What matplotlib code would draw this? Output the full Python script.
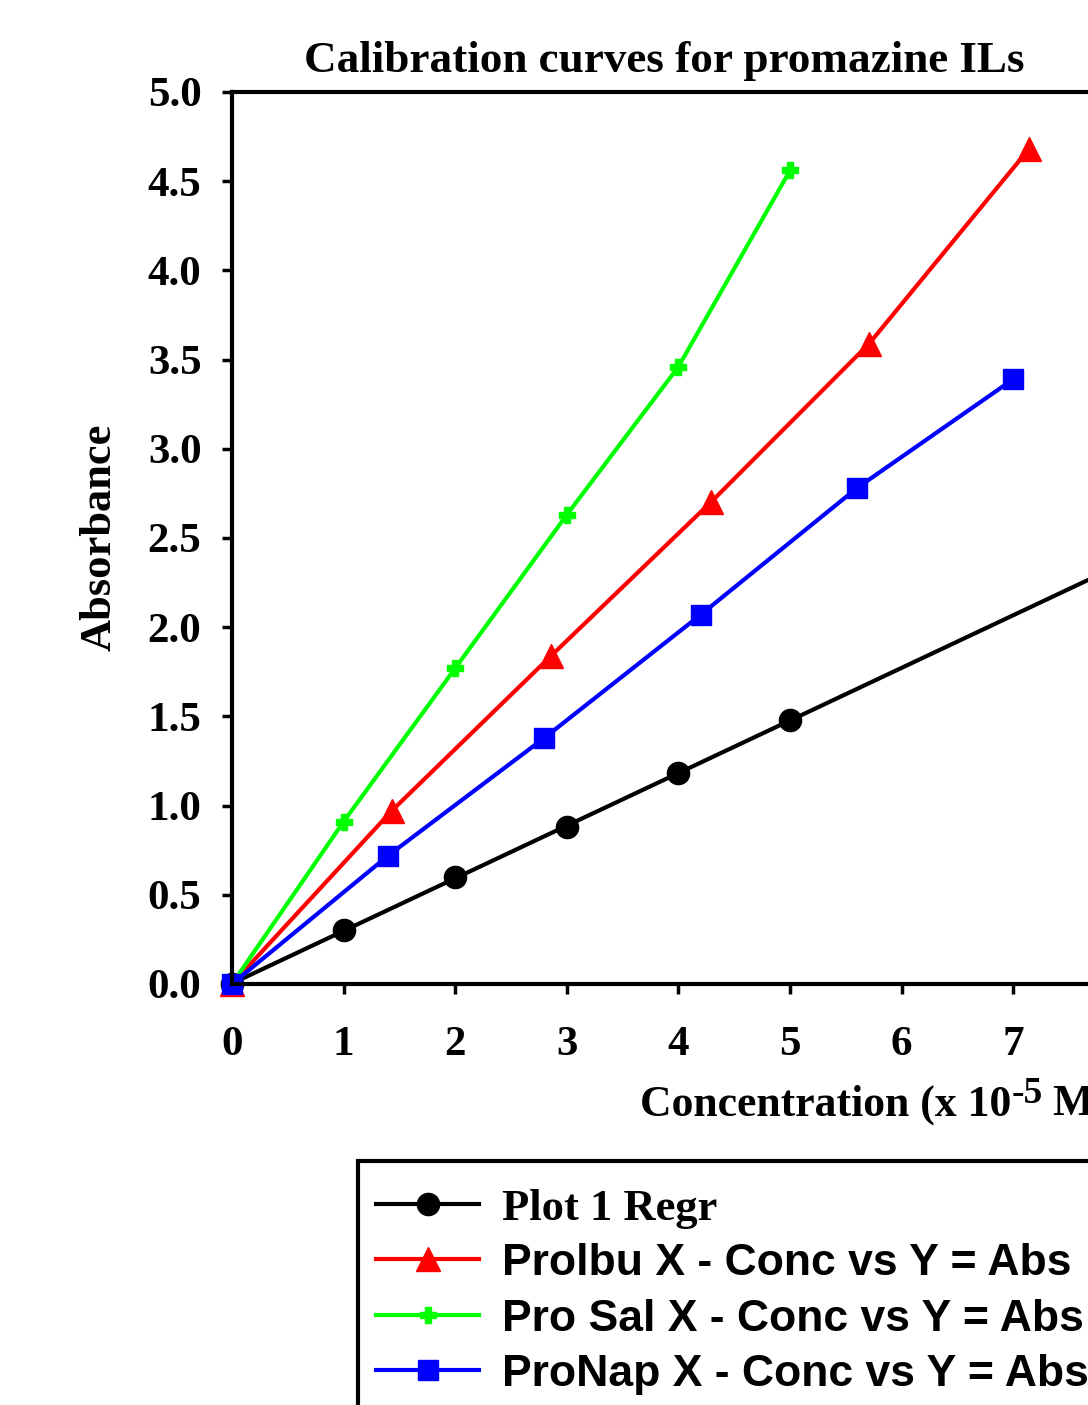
import numpy as np
import matplotlib
matplotlib.use("Agg")
import matplotlib.pyplot as plt
import matplotlib.lines as mlines
from matplotlib.patches import Rectangle

# data
x_plot1 = [0, 1, 2, 3, 4, 5]
y_plot1 = [0.0, 0.30, 0.60, 0.88, 1.18, 1.48]

x_ibu = [0, 1.43, 2.86, 4.29, 5.71, 7.14]
y_ibu = [0.0, 0.97, 1.84, 2.70, 3.59, 4.68]

x_sal = [0, 1, 2, 3, 4, 5]
y_sal = [0.0, 0.91, 1.77, 2.63, 3.46, 4.56]

x_nap = [0, 1.4, 2.8, 4.2, 5.6, 7.0]
y_nap = [0.0, 0.72, 1.38, 2.07, 2.78, 3.39]

labels = ["Plot 1 Regr", "Prolbu X - Conc vs Y = Abs",
          "Pro Sal X - Conc vs Y = Abs", "ProNap X - Conc vs Y = Abs"]

serif = "Liberation Serif"
sans = ["Liberation Sans", "DejaVu Sans"]

plt.rcParams["font.family"] = serif
plt.rcParams["font.weight"] = "bold"

W, H = 1088, 1405
fig = plt.figure(figsize=(W / 100, H / 100), dpi=100)

xmax = 10
left, top, bottom = 232, 92, 984
px_per_x = 111.6
ax = fig.add_axes([left / W, 1 - bottom / H, xmax * px_per_x / W, (bottom - top) / H])

lw = 3
# regression line for plot 1, extended across the axis
coef = np.polyfit(x_plot1, y_plot1, 1)
xr = np.array([0, xmax])
ax.plot(xr, np.polyval(coef, xr), color="black", lw=lw)
ax.plot(x_plot1, y_plot1, color="black", lw=0, marker="o", ms=16, clip_on=False)

ax.plot(x_ibu, y_ibu, color="#ff0000", lw=lw, marker="^", ms=17, clip_on=False)
ax.plot(x_sal, y_sal, color="#00ff00", lw=lw, marker="P", ms=11, clip_on=False)
ax.plot(x_nap, y_nap, color="#0000ff", lw=lw, marker="s", ms=15, clip_on=False)

ax.set_xlim(0, xmax)
ax.set_ylim(0, 5)
ax.set_xticks(range(0, xmax + 1))
yt = np.arange(0, 5.01, 0.5)
ax.set_yticks(yt)
ax.set_yticklabels([f"{v:.1f}" for v in yt])
ax.tick_params(direction="out", length=7, width=2.5, labelsize=31, pad=15)
ax.tick_params(axis="x", pad=23)
for s in ax.spines.values():
    s.set_linewidth(3)

fig.text(664 / W, 1 - 61 / H, "Calibration curves for promazine ILs",
         ha="center", va="center", fontsize=32.5, fontweight="bold")
fig.text(100 / W, 1 - 537 / H, "Absorbance", rotation=90,
         ha="center", va="center", fontsize=32, fontweight="bold")

# x label with a raised hyphen superscript
xl = fig.text(640 / W, 1 - 1116 / H, "Concentration (x 10",
              ha="left", va="baseline", fontsize=31.5, fontweight="bold")
fig.canvas.draw()
bb = xl.get_window_extent()
sup = fig.text(bb.x1 / W, 1 - 1103 / H, "-5",
               ha="left", va="baseline", fontsize=27, fontweight="bold")
fig.canvas.draw()
bb2 = sup.get_window_extent()
fig.text(bb2.x1 / W, 1 - 1116 / H, " M)",
         ha="left", va="baseline", fontsize=31.5, fontweight="bold")

handles = [
    mlines.Line2D([], [], color="black", lw=lw, marker="o", ms=16),
    mlines.Line2D([], [], color="#ff0000", lw=lw, marker="^", ms=17),
    mlines.Line2D([], [], color="#00ff00", lw=lw, marker="P", ms=11),
    mlines.Line2D([], [], color="#0000ff", lw=lw, marker="s", ms=15),
]
leg = fig.legend(handles, labels,
                 loc="upper left", bbox_to_anchor=(376 / W, 1 - 1188 / H),
                 fontsize=33, frameon=False, handlelength=2.25,
                 handletextpad=0.5, labelspacing=0.31, borderpad=0,
                 borderaxespad=0)
texts = leg.get_texts()
texts[0].set_fontfamily(serif)
texts[0].set_fontsize(32)
for t in texts[1:]:
    t.set_fontfamily(sans)
    t.set_fontsize(32)
for t in texts:
    t.set_fontweight("bold")

# legend frame, running past the right and bottom edges like the reference
fig.patches.append(Rectangle((358 / W, -0.05), 0.8, 1 - 1161 / H + 0.05,
                             transform=fig.transFigure, fill=False,
                             edgecolor="black", lw=3))

fig.savefig("out.png", dpi=100)
